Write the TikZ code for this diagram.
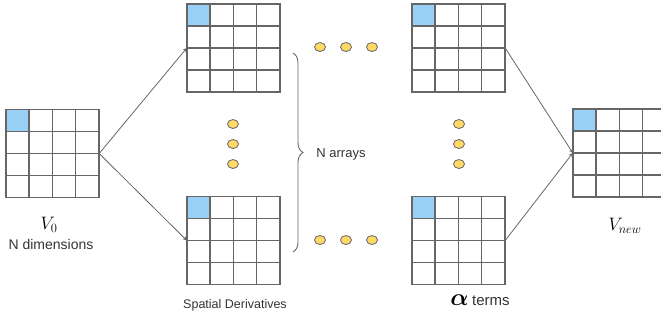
\RequirePackage{fix-cm}
\documentclass[tikz,border=0pt]{standalone}
\usepackage{bm}
\usepackage{fontspec}
\setmainfont{Liberation Sans}
\usetikzlibrary{positioning,decorations.pathreplacing}

\definecolor{cellblue}{RGB}{153,208,245}
\definecolor{dotyellow}{RGB}{255,217,102}
\definecolor{gridgray}{RGB}{102,102,102}
\definecolor{labelgray}{RGB}{51,51,51}

\tikzset{
  arraybox/.style={draw=gridgray, line width=1.6pt, minimum width=93pt,
    minimum height=88pt, inner sep=0pt},
  gridline/.style={draw=gridgray, line width=1.6pt},
  link/.style={draw=gridgray, line width=0.8pt},
  ydot/.style={fill=dotyellow, draw=gridgray, line width=0.8pt},
}

% a 4x4 array with its first cell shaded
\newcommand{\cellarray}[3]{%
  \path (#2,#3) node[inner sep=0pt, minimum width=93pt, minimum height=88pt] (#1) {};
  \begin{scope}[shift={(#1.north west)}]
    \fill[cellblue] (0,0) rectangle (23.25,22);
    \foreach \i in {1,2,3} {
      \draw[gridline] (\i*23.25,0) -- (\i*23.25,88);
      \draw[gridline] (0,\i*22) -- (93,\i*22);
    }
  \end{scope}
  \node[arraybox] at (#1) {};
}

\begin{document}
\begin{tikzpicture}[x=1pt, y=-1pt, font=\fontsize{13}{15}\selectfont, text=labelgray]
        \useasboundingbox (0,0) rectangle (661,322);
        \cellarray{vzero}{52.5}{153.5}
        \cellarray{sdtop}{233.5}{48}
        \cellarray{sdbot}{233.5}{240.5}
        \cellarray{altop}{458.5}{48}
        \cellarray{albot}{458.5}{240.5}
        \cellarray{vnew}{619.5}{153}
        % arrows
        \draw[link,->,>=stealth] (vzero.east) -- (sdtop.west);
        \draw[link,->,>=stealth] (vzero.east) -- (sdbot.west);
        \draw[link,->,>=stealth] (altop.east) -- (vnew.west);
        \draw[link,->,>=stealth] (albot.east) -- (vnew.west);
        % dots
        \foreach \x in {320,346,372} {
          \filldraw[ydot] (\x,47) ellipse (5.5 and 4.5);
          \filldraw[ydot] (\x,240) ellipse (5.5 and 4.5);
        }
        \foreach \y in {124,144,164} {
          \filldraw[ydot] (233,\y) ellipse (5.5 and 4.5);
          \filldraw[ydot] (459,\y) ellipse (5.5 and 4.5);
        }
        % brace
        \coordinate (bracetop) at (293,53);
        \coordinate (bracebot) at (293,252);
        \draw[gridgray, line width=0.9pt, decorate,
          decoration={brace, amplitude=10pt}] (bracetop) -- (bracebot);
        \node (narrays) at (341,154) {N arrays};
        % labels
        \node[text=black] (vzerolab) at (49,225) {\fontsize{18}{20}\selectfont$V_0$};
        \node (ndim) at (51,244) {\fontsize{14}{16}\selectfont N dimensions};
        \node (sdlab) at (235,305) {\fontsize{12.5}{15}\selectfont Spatial Derivatives};
        \node (allab) at (480,300) {{\color{black}\fontsize{24}{26}\selectfont$\bm{\alpha}$} \fontsize{15}{17}\selectfont terms};
        \node[text=black] (vnewlab) at (625,226) {\fontsize{18}{20}\selectfont$V_{new}$};
      \end{tikzpicture}
\end{document}
